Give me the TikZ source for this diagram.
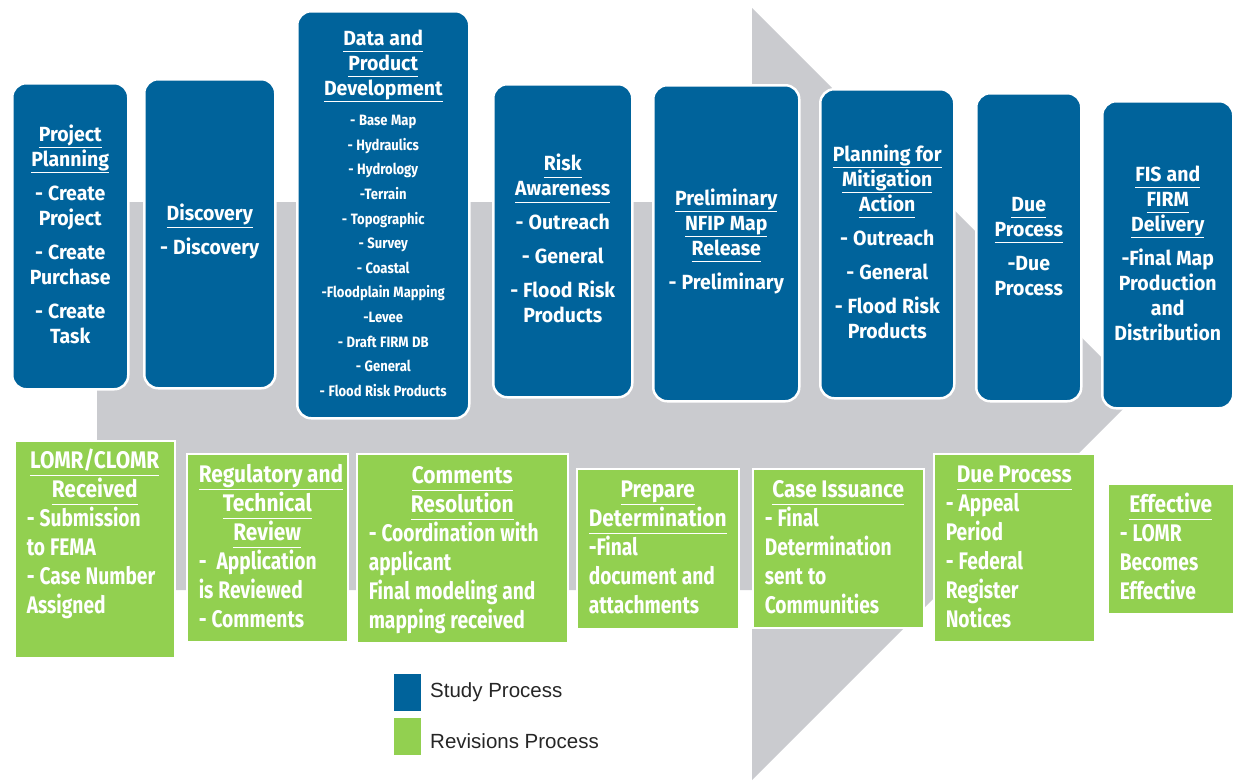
\documentclass[tikz,border=0pt]{standalone}
\usepackage{fontspec}
\newfontfamily\bfam[FakeStretch=0.95]{Fira Sans}
\newfontfamily\gfam[FakeStretch=0.8]{Fira Sans}
\newfontfamily\hfam[FakeStretch=0.87]{Fira Sans}
\newfontfamily\kfam{Liberation Sans}
\definecolor{blu}{RGB}{0,99,155}
\definecolor{grn}{RGB}{146,208,80}
\definecolor{gry}{RGB}{202,203,207}
\newcommand\wsp[1]{\spaceskip #1\relax}
\newcommand\hdl[1]{\underline{\smash{#1}\vphantom{g}}}
\newcommand\ghd[1]{\underline{\hfam\wsp{4.5pt}\smash{#1}\vphantom{g}}}
\newcommand\bl[1]{\makebox[\hsize][l]{\wsp{5pt}#1}}
\tikzset{%
    stu/.style={rectangle, rounded corners=14pt, fill=blu, draw=white, line width=2.5pt, anchor=north west, align=center, text=white, inner sep=2pt, font=\bfam\bfseries\fontsize{20.5}{25}\selectfont, execute at begin node={\wsp{5pt}}},
    rev/.style={rectangle, fill=grn, draw=white, line width=1.5pt, anchor=north west, align=center, text=white, inner xsep=12pt, inner ysep=2pt, font=\gfam\bfseries\fontsize{24}{29}\selectfont},
    key/.style={rectangle, draw=white, line width=1pt, anchor=north west, minimum width=28pt, minimum height=38pt, inner sep=0pt},
    keyt/.style={anchor=west, inner sep=0pt, text=black!85, font=\kfam\fontsize{20.5}{24}\selectfont},
}
\begin{document}
\begin{tikzpicture}[x=1pt, y=-1pt]
    \useasboundingbox (0,0) rectangle (1233,780);
    \fill [gry] (97,202)--(752,202)--(752,8)--(1138,394)--(752,780)--(752,590)--(97,590)--cycle;
    \node [stu, minimum width=116, minimum height=306] (plan) at (11,82) {\hdl{Project}\\\hdl{Planning}\\[9pt]- Create\\Project\\[9pt]- Create\\Purchase\\[9pt]- Create\\Task};
    \node [stu, minimum width=131, minimum height=309] (disc) at (143,78) {\hdl{Discovery}\\[9pt]- Discovery};
    \node [stu, minimum width=172, minimum height=407, text width=168] (data) at (296,10) {\hdl{Data and}\\\hdl{Product}\\\hdl{Development}\\[6pt]\hfam\fontsize{15}{24.6}\selectfont\wsp{3.5pt}- Base Map\\- Hydraulics\\- Hydrology\\-Terrain\\- Topographic\\- Survey\\- Coastal\\-Floodplain Mapping\\-Levee\\- Draft FIRM DB\\- General\\- Flood Risk Products};
    \node [stu, minimum width=139, minimum height=313] (risk) at (492,83) {\hdl{Risk}\\\hdl{Awareness}\\[9pt]- Outreach\\[9pt]- General\\[9pt]- Flood Risk\\Products};
    \node [stu, minimum width=146, minimum height=316] (prel) at (652,84) {\hdl{Preliminary}\\\hdl{NFIP Map}\\\hdl{Release}\\[9pt]- Preliminary};
    \node [stu, minimum width=134, minimum height=309] (miti) at (819,88) {\hdl{Planning for}\\\hdl{Mitigation}\\\hdl{Action}\\[9pt]- Outreach\\[9pt]- General\\[9pt]- Flood Risk\\Products};
    \node [stu, minimum width=105, minimum height=308] (due) at (975,92) {\hdl{Due}\\\hdl{Process}\\[9pt]-Due\\Process};
    \node [stu, minimum width=131, minimum height=307] (fis) at (1101,100) {\hdl{FIS and}\\\hdl{FIRM}\\\hdl{Delivery}\\[9pt]-Final Map\\Production\\and\\Distribution};
    \node [rev, text width=136, minimum height=217] (lomr) at (14,440) {\ghd{LOMR/CLOMR}\\\ghd{Received}\\\bl{- Submission}\\\bl{to FEMA}\\\bl{- Case Number}\\\bl{Assigned}\\[2pt]\mbox{}};
    \node [rev, text width=137, minimum height=188] (regr) at (186,453) {\ghd{Regulatory and}\\\ghd{Technical}\\\ghd{Review}\\\bl{-~ Application}\\\bl{is Reviewed}\\\bl{- Comments}};
    \node [rev, text width=187, minimum height=189] (comr) at (356,453) {\ghd{Comments}\\\ghd{Resolution}\\\bl{- Coordination with}\\\bl{applicant}\\\bl{Final modeling and}\\\bl{\smash{mapping received}}};
    \node [rev, text width=138, minimum height=160] (prep) at (576,468) {\ghd{Prepare}\\\ghd{Determination}\\\bl{-Final}\\\bl{document and}\\\bl{attachments}};
    \node [rev, text width=147, minimum height=159] (case) at (752,468) {\ghd{Case Issuance}\\\bl{- Final}\\\bl{Determination}\\\bl{sent to}\\\bl{Communities}};
    \node [rev, text width=137, minimum height=188] (duep) at (933,453) {\ghd{Due Process}\\\bl{- Appeal}\\\bl{Period}\\\bl{- Federal}\\\bl{Register}\\\bl{Notices}};
    \node [rev, text width=102, minimum height=130] (eff) at (1107,483) {\ghd{Effective}\\\bl{- LOMR}\\\bl{Becomes}\\\bl{Effective}};
    \node [key, fill=blu] (k1) at (393,673) {};
    \node [key, fill=grn] (k2) at (393,717) {};
    \node [keyt] (k1t) at (430,692) {Study Process};
    \node [keyt] (k2t) at (430,741) {Revisions Process};
\end{tikzpicture}
\end{document}
